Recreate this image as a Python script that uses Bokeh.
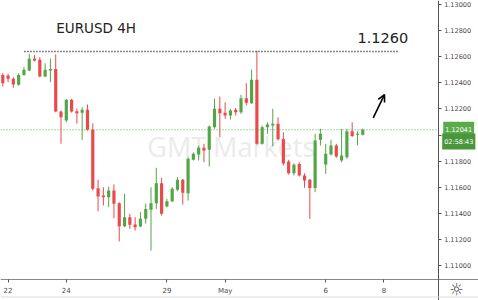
from bokeh.plotting import figure
from bokeh.models import (Range1d, FixedTicker, PrintfTickFormatter, Span, Label,
                          Arrow, OpenHead, ColumnDataSource)
from bokeh.embed import file_html
from bokeh.resources import INLINE

# ---------------- data (EURUSD 4H candles) ----------------
opens = [1.12461, 1.12456, 1.12431, 1.12385, 1.12461, 1.12494, 1.12584, 1.12576, 1.12448, 1.12494,
         1.12507, 1.12180, 1.12111, 1.12270, 1.12182, 1.12170, 1.12193, 1.12040, 1.11592, 1.11536,
         1.11523, 1.11575, 1.11478, 1.11301, 1.11370, 1.11315, 1.11299, 1.11358, 1.11427, 1.11478,
         1.11631, 1.11452, 1.11493, 1.11580, 1.11657, 1.11554, 1.11810, 1.11851, 1.11902, 1.11887,
         1.12060, 1.12201, 1.12170, 1.12149, 1.12193, 1.12175, 1.12282, 1.12244, 1.12423, 1.11933,
         1.12060, 1.12073, 1.12086, 1.11969, 1.11797, 1.11707, 1.11779, 1.11690, 1.11657, 1.11595,
         1.11963, 1.11774, 1.11851, 1.11920, 1.11805, 1.11830, 1.12029, 1.12002, 1.12002]
highs = [1.12474, 1.12469, 1.12443, 1.12474, 1.12520, 1.12622, 1.12612, 1.12596, 1.12550, 1.12586,
         1.12617, 1.12188, 1.12277, 1.12277, 1.12203, 1.12213, 1.12234, 1.12090, 1.11657, 1.11600,
         1.11605, 1.11621, 1.11485, 1.11549, 1.11396, 1.11370, 1.11409, 1.11473, 1.11600, 1.11749,
         1.11672, 1.11511, 1.11600, 1.11677, 1.11664, 1.11830, 1.11868, 1.11920, 1.11933, 1.12073,
         1.12280, 1.12295, 1.12251, 1.12201, 1.12208, 1.12308, 1.12397, 1.12502, 1.12644, 1.12073,
         1.12098, 1.12201, 1.12136, 1.12021, 1.11810, 1.11784, 1.11792, 1.11707, 1.11663, 1.12009,
         1.12048, 1.11933, 1.11963, 1.11933, 1.12048, 1.12048, 1.12098, 1.12029, 1.12050]
lows = [1.12372, 1.12405, 1.12362, 1.12379, 1.12454, 1.12489, 1.12563, 1.12443, 1.12443, 1.12405,
        1.12175, 1.11933, 1.12098, 1.12172, 1.12088, 1.11963, 1.12034, 1.11575, 1.11416, 1.11460,
        1.11447, 1.11362, 1.11184, 1.11294, 1.11281, 1.11268, 1.11294, 1.11322, 1.11115, 1.11434,
        1.11383, 1.11447, 1.11485, 1.11569, 1.11467, 1.11498, 1.11805, 1.11805, 1.11792, 1.11759,
        1.12048, 1.11983, 1.12124, 1.12119, 1.12149, 1.12162, 1.12226, 1.12239, 1.11927, 1.11927,
        1.12009, 1.11914, 1.11958, 1.11766, 1.11697, 1.11690, 1.11682, 1.11595, 1.11357, 1.11562,
        1.11920, 1.11702, 1.11843, 1.11825, 1.11792, 1.11818, 1.11985, 1.11920, 1.11996]
closes = [1.12397, 1.12431, 1.12387, 1.12461, 1.12500, 1.12584, 1.12571, 1.12448, 1.12500, 1.12507,
          1.12180, 1.12136, 1.12270, 1.12180, 1.12167, 1.12193, 1.12040, 1.11588, 1.11529, 1.11523,
          1.11575, 1.11473, 1.11301, 1.11370, 1.11312, 1.11294, 1.11358, 1.11434, 1.11478, 1.11631,
          1.11396, 1.11493, 1.11588, 1.11657, 1.11557, 1.11818, 1.11856, 1.11902, 1.11881, 1.12065,
          1.12201, 1.12167, 1.12149, 1.12188, 1.12175, 1.12282, 1.12247, 1.12423, 1.11933, 1.12060,
          1.12080, 1.12086, 1.11967, 1.11782, 1.11707, 1.11772, 1.11690, 1.11651, 1.11595, 1.11958,
          1.12009, 1.11856, 1.11920, 1.11835, 1.11843, 1.12029, 1.11992, 1.12009, 1.12041]

x_tick_positions = [1, 12, 31, 42, 61, 72]
x_tick_labels = ["22", "24", "29", "May", "6", "8"]
y_ticks = [1.110, 1.112, 1.114, 1.116, 1.118, 1.120, 1.122, 1.124, 1.126, 1.128, 1.130]

last_price = 1.12041
countdown = "02:58:43"
resistance = 1.1264
resistance_label = "1.1260"
title_text = "EURUSD 4H"
watermark_text = "GMT Markets"

GREEN = "#53a647"
RED = "#ea4a4a"

# layout constants (in data units)
X_LEFT, X_RIGHT = -0.43, 89.86          # full canvas width
Y_BOTTOM, Y_TOP = 1.10732, 1.13031      # full canvas height
PRICE_AXIS_X = 82.24                    # where the price scale sits
TIME_AXIS_Y = 1.10890                   # where the time scale sits

# ---------------- derived ----------------
idx = list(range(len(opens)))
colors = [GREEN if c >= o else RED for o, c in zip(opens, closes)]
tops = [max(o, c) for o, c in zip(opens, closes)]
bottoms = [min(o, c) for o, c in zip(opens, closes)]
src = ColumnDataSource(dict(x=idx, high=highs, low=lows, top=tops, bottom=bottoms, color=colors))

p = figure(width=478, height=300,
           x_range=Range1d(X_LEFT, X_RIGHT), y_range=Range1d(Y_BOTTOM, Y_TOP),
           y_axis_location="right", output_backend="svg", toolbar_location=None,
           min_border=0, min_border_left=0, min_border_top=0,
           min_border_right=0, min_border_bottom=0)
p.background_fill_color = "white"
p.border_fill_color = "white"
p.outline_line_color = None
p.xgrid.visible = False
p.ygrid.visible = False

# watermark (behind candles)
p.add_layout(Label(x=27.3, y=1.11912, text=watermark_text, text_font="Open Sans",
                   text_font_size="27px", text_color="#ebebeb", text_baseline="alphabetic",
                   level="underlay"))

# faint bottom rule
p.add_layout(Span(location=1.10759, dimension="width", line_color="#dedede", line_width=1))

p.segment(x0="x", y0="high", x1="x", y1="low", color="color", line_width=1, source=src)
p.vbar(x="x", width=0.6, top="top", bottom="bottom", fill_color="color", line_color=None, source=src)

# current price line (up to the price scale)
p.segment(x0=[X_LEFT], y0=[last_price], x1=[PRICE_AXIS_X], y1=[last_price],
          line_color="#4caf50", line_dash="1 2", line_width=1.1)

# resistance dotted line
p.segment(x0=[4.1], y0=[resistance], x1=[74.7], y1=[resistance],
          line_color="#111111", line_dash="1 2", line_width=1.6)

# texts
p.add_layout(Label(x=10.1, y=1.12821, text=title_text, text_font="DejaVu Sans",
                   text_font_size="13.5px", text_color="#222222", text_baseline="alphabetic"))
p.add_layout(Label(x=67.0, y=1.12745, text=resistance_label, text_font="DejaVu Sans",
                   text_font_size="14.5px", text_color="#222222", text_baseline="alphabetic"))

# arrow
p.add_layout(Arrow(x_start=69.97, y_start=1.12132, x_end=72.1, y_end=1.12310,
                   line_color="black", line_width=1.6,
                   end=OpenHead(size=7, line_color="black", line_width=1.6)))

# axes
yax = p.yaxis[0]
yax.fixed_location = PRICE_AXIS_X
yax.ticker = FixedTicker(ticks=y_ticks)
yax.formatter = PrintfTickFormatter(format="%.5f")
yax.major_label_text_font = "DejaVu Sans"
yax.major_label_text_font_size = "6.5px"
yax.major_label_text_color = "#4a4a4a"
yax.axis_line_color = "#555555"
yax.major_tick_line_color = "#555555"
yax.major_tick_out = 3
yax.major_tick_in = 0
yax.minor_tick_line_color = None
yax.major_label_standoff = 3

xax = p.xaxis[0]
xax.fixed_location = TIME_AXIS_Y
xax.ticker = FixedTicker(ticks=x_tick_positions)
xax.major_label_overrides = {k: v for k, v in zip(x_tick_positions, x_tick_labels)}
xax.major_label_text_font = "DejaVu Sans"
xax.major_label_text_font_size = "7px"
xax.major_label_text_color = "#4a4a4a"
xax.axis_line_color = "#888888"
xax.major_tick_line_color = "#555555"
xax.major_tick_out = 3
xax.major_tick_in = 0
xax.minor_tick_line_color = None
xax.major_label_standoff = 4

# price / countdown boxes on the price scale
p.add_layout(Label(x=83.2, y=1.12044, text="%.5f" % last_price, text_font="DejaVu Sans",
                   text_font_size="6.5px", text_color="white", text_baseline="middle",
                   background_fill_color="#5aab4a", padding=(2, 5)))
p.add_layout(Label(x=83.0, y=1.11950, text=countdown, text_font="DejaVu Sans",
                   text_font_size="6.5px", text_color="white", text_baseline="middle",
                   background_fill_color="#4a963c", padding=(2, 4)))
p.add_layout(Label(x=85.7, y=1.10816, text="\u263c", text_font="DejaVu Sans",
                   text_font_size="16px", text_color="#444444", text_align="center",
                   text_baseline="middle"))

open("out.html", "w").write(file_html(p, INLINE))
